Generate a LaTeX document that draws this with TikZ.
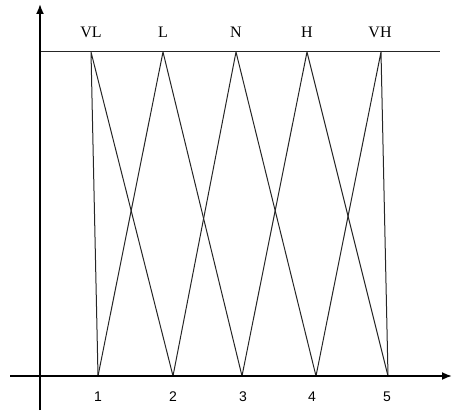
\documentclass[tikz,border=0pt]{standalone}
\usepackage{fontspec}
\setmainfont{Liberation Serif}
\newfontfamily\numfont{Liberation Sans}
\usetikzlibrary{arrows}
\usetikzlibrary{arrows.meta}

\begin{document}
\begin{tikzpicture}[x=1pt, y=-1pt, line join=round,
  axis/.style={line width=1.8pt, -{Latex[length=10pt,width=8pt]}},
  mf/.style={line width=1pt, black!85},
  termlabel/.style={font=\fontsize{16}{16}\selectfont, inner sep=0pt},
  ticklabel/.style={font=\numfont\fontsize{14}{14}\selectfont, inner sep=0pt}]
  \useasboundingbox (0,0) rectangle (452,411);

  \coordinate (Origin) at (40,376);

  % peaks on the top line, feet on the x axis
  \coordinate (PVL) at (91,52);
  \coordinate (PL)  at (163,52);
  \coordinate (PN)  at (236,52);
  \coordinate (PH)  at (307,52);
  \coordinate (PVH) at (381,52);
  \coordinate (B1) at (98,376);
  \coordinate (B2) at (173,376);
  \coordinate (B3) at (242,376);
  \coordinate (B4) at (316,376);
  \coordinate (B5) at (388,376);

  \coordinate (TopL) at (40,52);
  \coordinate (TopR) at (440,52);
  \draw [mf] (TopL) -- (TopR);

  \foreach \p/\a/\b in {PVL/B1/B2, PL/B1/B3, PN/B2/B4, PH/B3/B5, PVH/B4/B5}{%
    \draw [mf] (\a) -- (\p) -- (\b);
  }

  \coordinate (XStart) at (10,376);
  \coordinate (XEnd)   at (452,376);
  \coordinate (YStart) at (40,410);
  \coordinate (YEnd)   at (40,4);
  \draw [axis] (XStart) -- (XEnd);
  \draw [axis] (YStart) -- (YEnd);

  \foreach \name/\x/\txt in {VL/91/VL, L/163/L, N/236/N, H/307/H, VH/380/VH}{%
    \node [termlabel] (lab\name) at (\x,32) {\txt};
  }
  \foreach \x/\n in {98/1, 173/2, 243/3, 312/4, 387/5}{%
    \node [ticklabel] (tick\n) at (\x,397) {\n};
  }
\end{tikzpicture}
\end{document}
